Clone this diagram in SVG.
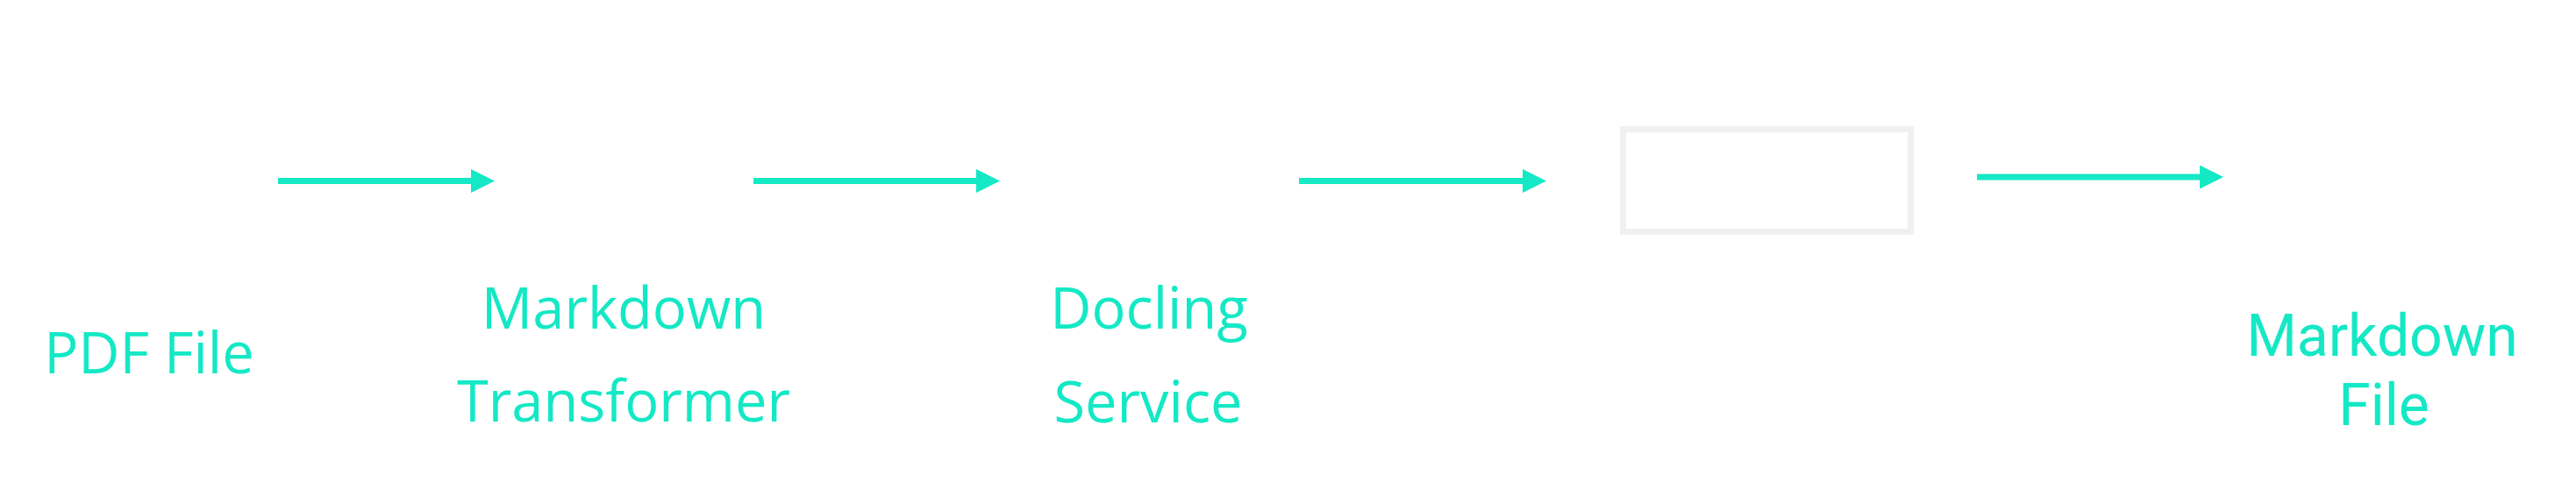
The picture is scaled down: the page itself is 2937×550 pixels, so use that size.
<svg xmlns="http://www.w3.org/2000/svg" width="2937" height="550" viewBox="0 0 2937 550">
  <style>
    .lbl { font-family: "Open Sans", "Noto Sans", "Liberation Sans", sans-serif; font-size: 65px; fill: #14E8C5; text-anchor: middle; }
    .lbl-tight { font-family: Roboto, "Open Sans", "Liberation Sans", sans-serif; font-size: 66px; fill: #14E8C5; text-anchor: middle; }
    .edge { stroke: #14E8C5; stroke-width: 7; fill: none; }
    .box { fill: #ffffff; stroke: #F0F0F0; stroke-width: 7; }
  </style>
  <defs>
    <marker id="arrow" viewBox="0 0 27 27" refX="0" refY="13.5" markerWidth="27" markerHeight="27" markerUnits="userSpaceOnUse" orient="auto">
      <path d="M0,0 L27,13.5 L0,27 z" fill="#14E8C5"/>
    </marker>
  </defs>
  <rect x="0" y="0" width="2937" height="550" fill="#ffffff"/>

  <g id="connectors">
    <line class="edge" x1="317" y1="206.5" x2="537" y2="206.5" marker-end="url(#arrow)"/>
    <line class="edge" x1="859" y1="206.5" x2="1113" y2="206.5" marker-end="url(#arrow)"/>
    <line class="edge" x1="1481" y1="206.5" x2="1736" y2="206.5" marker-end="url(#arrow)"/>
    <line class="edge" x1="2254" y1="202" x2="2508" y2="202" marker-end="url(#arrow)"/>
  </g>

  <g id="pdf-file">
    <text class="lbl" x="170" y="426">PDF File</text>
  </g>

  <g id="markdown-transformer">
    <text class="lbl"><tspan x="711" y="375">Markdown</tspan><tspan x="711" y="481">Transformer</tspan></text>
  </g>

  <g id="docling-service">
    <text class="lbl"><tspan x="1310" y="375">Docling</tspan><tspan x="1309" y="482">Service</tspan></text>
  </g>

  <g id="empty-box">
    <rect class="box" x="1850.5" y="147.5" width="328" height="117"/>
  </g>

  <g id="markdown-file">
    <text class="lbl-tight"><tspan x="2716" y="406">Markdown</tspan><tspan x="2718" y="485">File</tspan></text>
  </g>
</svg>
